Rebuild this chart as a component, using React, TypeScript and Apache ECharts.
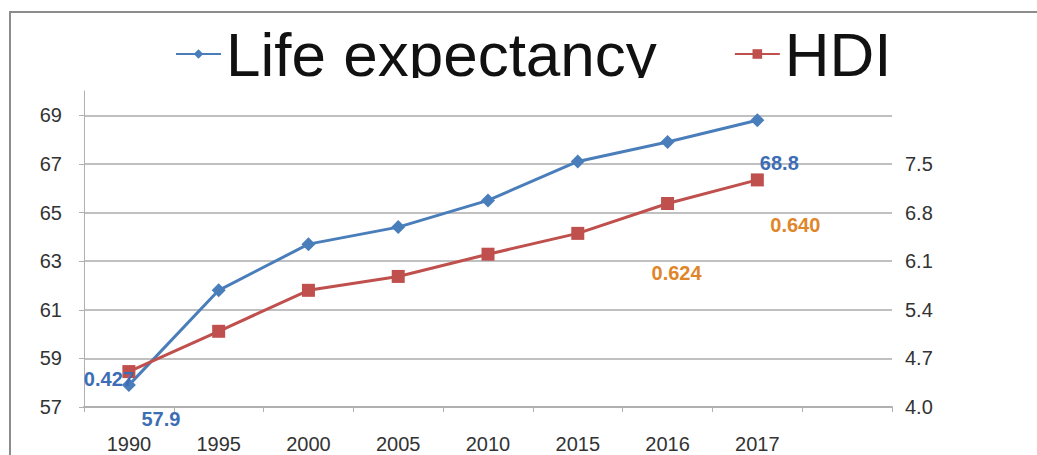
import React, { useEffect, useRef } from "react";
import * as echarts from "echarts";

const categories = ["1990", "1995", "2000", "2005", "2010", "2015", "2016", "2017", ""];
const lifeExpectancy = [57.9, 61.8, 63.7, 64.4, 65.5, 67.1, 67.9, 68.8, null];
// HDI as drawn against the right-hand axis of the picture
const hdiPlotted = [4.51, 5.09, 5.68, 5.88, 6.2, 6.5, 6.93, 7.27, null];
const lifeLabels = ["57.9", "", "", "", "", "", "", "68.8", ""];
const hdiLabels = ["0.427", "", "", "", "", "", "0.624", "0.640", ""];
const leftTicks = [57, 59, 61, 63, 65, 67, 69];
const rightTicks = [4.0, 4.7, 5.4, 6.1, 6.8, 7.5];

const BLUE = "#4a7ebb";
const RED = "#c0504d";
const FONT = "Liberation Sans, Arial, sans-serif";

const lifeLabelOffsets: Record<number, number[]> = { 0: [32, 34], 7: [22, 43] };
const hdiLabelOffsets: Record<number, number[]> = { 0: [-20, 7], 6: [9, 69], 7: [38, 45] };
const hdiLabelColors: Record<number, string> = { 0: "#3d6db5", 6: "#e0862a", 7: "#e0862a" };

export default function App() {
  const ref = useRef<HTMLDivElement>(null);
  useEffect(() => {
    if (!ref.current) return;
    const chart = echarts.init(ref.current, null, { renderer: "svg" });
    const lifeData = lifeExpectancy.map((v, i) => ({
      value: v,
      label: lifeLabels[i]
        ? {
            show: true,
            position: "inside",
            formatter: lifeLabels[i],
            offset: lifeLabelOffsets[i] || [0, 0],
            color: "#3d6db5",
            fontWeight: "bold",
            fontSize: 20,
            fontFamily: FONT,
          }
        : { show: false },
    }));
    const hdiData = hdiPlotted.map((v, i) => ({
      value: v,
      label: hdiLabels[i]
        ? {
            show: true,
            position: "inside",
            formatter: hdiLabels[i],
            offset: hdiLabelOffsets[i] || [0, 0],
            color: hdiLabelColors[i] || "#e0862a",
            fontWeight: "bold",
            fontSize: 20,
            fontFamily: FONT,
          }
        : { show: false },
    }));
    chart.setOption({
      animation: false,
      backgroundColor: "#ffffff",
      textStyle: { fontFamily: FONT },
      legend: {
        left: 170,
        top: 18,
        itemWidth: 45,
        itemHeight: 12,
        itemGap: 77,
        textStyle: { fontSize: 62, color: "#111", fontFamily: FONT },
        data: ["Life expectancy", "HDI"],
      },
      grid: { left: 84, right: 145, top: 91, bottom: 48, containLabel: false },
      xAxis: {
        type: "category",
        data: categories,
        boundaryGap: true,
        axisLine: { lineStyle: { color: "#b0b0b0", width: 2 } },
        axisTick: { show: true, length: 5, lineStyle: { color: "#b0b0b0" } },
        axisLabel: { color: "#333", fontSize: 20, margin: 27, fontFamily: FONT, interval: 0 },
      },
      yAxis: [
        {
          type: "value",
          min: 57,
          max: 70,
          axisLine: { show: true, lineStyle: { color: "#b0b0b0" } },
          axisTick: { show: true, customValues: leftTicks, length: 5, lineStyle: { color: "#b0b0b0" } },
          axisLabel: { customValues: leftTicks, color: "#333", fontSize: 20, margin: 22, fontFamily: FONT },
          splitLine: { show: true, lineStyle: { color: "#c0c0c0", width: 2 } },
        },
        {
          type: "value",
          min: 4.0,
          max: 8.55,
          position: "right",
          axisLine: { show: false },
          axisTick: { show: false, customValues: rightTicks },
          axisLabel: {
            customValues: rightTicks,
            formatter: (v: number) => v.toFixed(1),
            color: "#333",
            fontSize: 20,
            margin: 13,
            fontFamily: FONT,
          },
          splitLine: { show: false },
        },
      ],
      series: [
        {
          name: "Life expectancy",
          type: "line",
          yAxisIndex: 0,
          data: lifeData,
          symbol: "diamond",
          symbolSize: 14,
          lineStyle: { color: BLUE, width: 3 },
          itemStyle: { color: BLUE },
        },
        {
          name: "HDI",
          type: "line",
          yAxisIndex: 1,
          data: hdiData,
          symbol: "rect",
          symbolSize: 13,
          lineStyle: { color: RED, width: 3 },
          itemStyle: { color: RED },
        },
      ],
      graphic: [
        {
          type: "rect",
          z: 100,
          shape: { x: 150, y: 78, width: 800, height: 12 },
          style: { fill: "#ffffff" },
        },
        {
          type: "rect",
          z: 101,
          shape: { x: 10, y: 12, width: 1040, height: 460 },
          style: { fill: "none", stroke: "#8c8c8c", lineWidth: 2 },
        },
      ],
    });
    return () => chart.dispose();
  }, []);
  return (
    <div
      ref={ref}
      style={{ position: "fixed", left: 0, top: 0, width: 1037, height: 455, background: "#fff" }}
    />
  );
}
